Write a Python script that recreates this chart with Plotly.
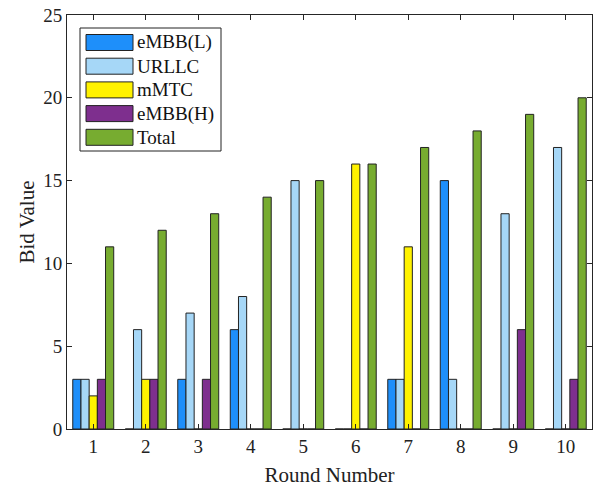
import plotly.graph_objects as go

rounds = [1, 2, 3, 4, 5, 6, 7, 8, 9, 10]
embb_l = [3, 0, 3, 6, 0, 0, 3, 15, 0, 0]
urllc = [3, 6, 7, 8, 15, 0, 3, 3, 13, 17]
mmtc = [2, 3, 0, 0, 0, 16, 11, 0, 0, 0]
embb_h = [3, 3, 3, 0, 0, 0, 0, 0, 6, 3]
total = [11, 12, 13, 14, 15, 16, 17, 18, 19, 20]

series = [
    ("eMBB(L)", embb_l, "#1E8FFA"),
    ("URLLC", urllc, "#A6D7F7"),
    ("mMTC", mmtc, "#FFF200"),
    ("eMBB(H)", embb_h, "#7E2F8E"),
    ("Total", total, "#77AC30"),
]

W, H = 600, 487
L, R, T, B = 67, 8, 15, 58
PW, PH = W - L - R, H - T - B


def px(x):
    return (x - L) / PW


def py(y):
    return (H - B - y) / PH


fig = go.Figure()
for name, vals, col in series:
    fig.add_trace(go.Bar(x=rounds, y=vals, name=name, marker_color=col,
                         marker_line=dict(color="#222222", width=1),
                         textposition="none", showlegend=False, hoverinfo="skip"))

font = "Liberation Serif, Times New Roman, serif"

# MATLAB-style legend box with wide swatches
shapes = [dict(type="rect", xref="paper", yref="paper",
               x0=px(80), x1=px(221), y0=py(151), y1=py(28),
               line=dict(color="#222222", width=1), fillcolor="white", layer="above")]
annotations = []
for i, (name, vals, col) in enumerate(series):
    top = 34.5 + i * 23.7
    shapes.append(dict(type="rect", xref="paper", yref="paper",
                       x0=px(86), x1=px(133), y0=py(top + 16), y1=py(top),
                       line=dict(color="#222222", width=1), fillcolor=col, layer="above"))
    annotations.append(dict(xref="paper", yref="paper", x=px(135), y=py(top + 8),
                            xanchor="left", yanchor="middle", text=name, showarrow=False,
                            font=dict(family=font, size=19, color="#111111")))

fig.update_layout(
    width=W, height=H,
    margin=dict(l=L, r=R, t=T, b=B, autoexpand=False),
    paper_bgcolor="white", plot_bgcolor="white",
    barmode="group", bargap=0.22, bargroupgap=0,
    font=dict(family=font, size=19, color="#222222"),
    showlegend=False,
    shapes=shapes, annotations=annotations,
)
fig.update_xaxes(range=[0.5, 10.5], tickmode="array", tickvals=rounds,
                 ticktext=[str(r) for r in rounds], automargin=False,
                 showline=True, linecolor="#262626", linewidth=1, mirror="ticks",
                 ticks="inside", ticklen=5, tickcolor="#262626",
                 showgrid=False, zeroline=False, tickfont=dict(size=19),
                 title=dict(text="Round Number", font=dict(size=21), standoff=12))
fig.update_yaxes(range=[0, 25], tickmode="array", tickvals=[0, 5, 10, 15, 20, 25],
                 automargin=False,
                 showline=True, linecolor="#262626", linewidth=1, mirror="ticks",
                 ticks="inside", ticklen=5, tickcolor="#262626",
                 showgrid=False, zeroline=False, tickfont=dict(size=19),
                 title=dict(text="Bid Value", font=dict(size=21), standoff=2))

fig.write_html("out.html", config={"displayModeBar": False},
               post_script="document.body.style.margin='0';document.body.style.overflow='hidden';")
